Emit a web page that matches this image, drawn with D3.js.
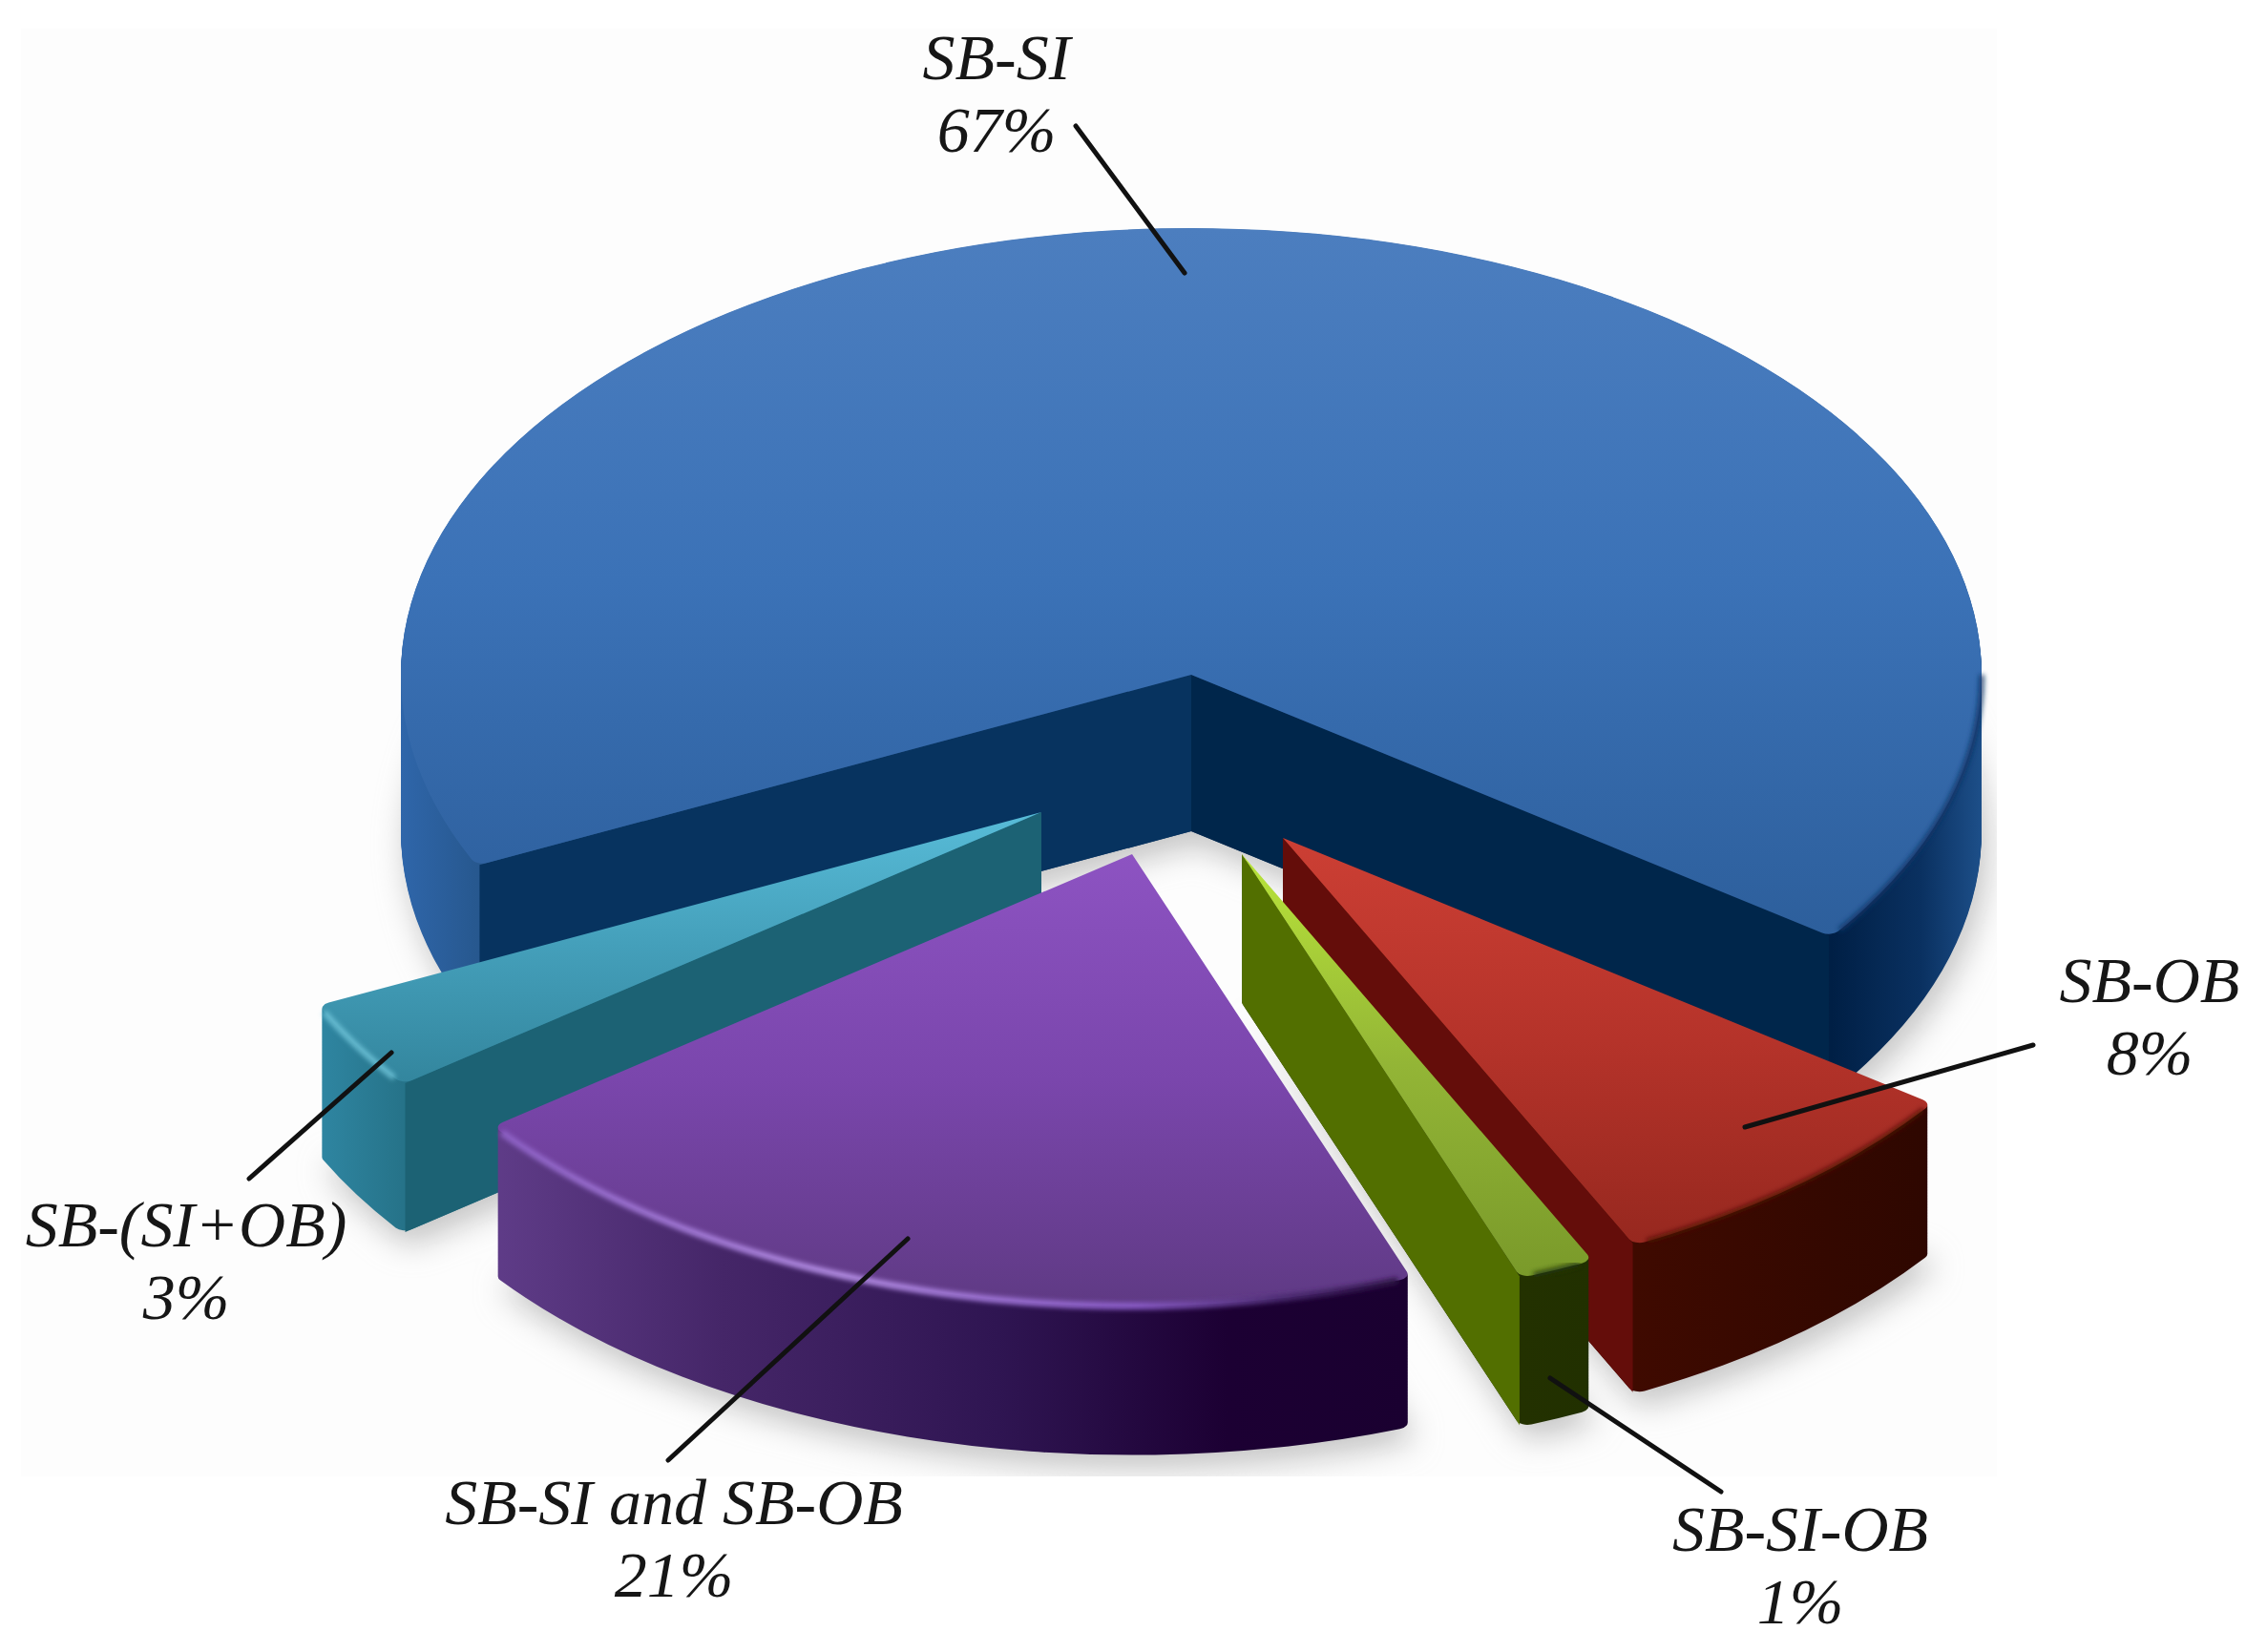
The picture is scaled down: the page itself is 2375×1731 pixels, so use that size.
<!DOCTYPE html>
<html><head><meta charset="utf-8">
<script src="https://cdn.jsdelivr.net/npm/d3@7"></script>
<style>html,body{margin:0;padding:0;background:#fff}svg{display:block}text{font-family:"Liberation Serif",serif;font-style:italic;fill:#161616}</style>
</head><body><div id="c"></div>
<script>
// ---- data ----
const categories = ["SB-SI","SB-OB","SB-SI-OB","SB-SI and SB-OB","SB-(SI+OB)"];
const values = [67,8,1,21,3];

// ---- layout / style (not data) ----
const W=2375,H=1731, cx=1248, cy=707, ry0=468, rx0=828;
const startDeg=-115.3;
const explode=[[0,0],[96,171],[53,188],[-62,188],[-157,144]];
const radiusScale=[1,1.014,1.012,1.012,1.012];
const depths=[164,156,156,156,156];
const nudge=[[0,0],[0,-0.7],[-0.7,1.3],[1.3,-0.9],[-0.9,0]];
const drawOrder=[0,4,3,1,2];
const topStops=[["#4c7ebf","#3b72b7","#2d5f9c"],["#cc3f34","#b5332a","#97281f"],["#b9e43a","#93b536","#7a9a2a"],["#8d53c2","#7a46ac","#5f3a84"],["#58bcd8","#449fba","#33869e"]];
const wallStops=[
 null,
 [["#3f0a00",0],["#2e0700",1]],
 [["#233100",0],["#213000",1]],
 [["#5f3c88",0],["#452668",.25],["#2f1552",.55],["#1c0033",.8],["#1a0030",1]],
 [["#2f86a2",0],["#267389",1]]];
const startFace=["#07335f",null,null,null,"#1c6274"];
const endFace=["#00264b","#640d0a","#526f00",null,null];
const rimColor=[["#0c3266",.8],["#4a0e08",.75],["#23330a",.8],null,["#6fc3d8",.9]];
const labelPos=[[1044,83],[2252,1050],[1886,1625],[706,1597],[195,1306]];
const leaders=[[1127,132,1241,286],[2130,1095,1828,1181],[1803,1563,1624,1444],[700,1530,951,1298],[261,1235,410,1103]];
const fontSize=68, lineGap=76, cornerR=12, faceInset=0.996;

const svg=d3.select("#c").append("svg").attr("width",W).attr("height",H);
const defs=svg.append("defs");
const rad=d=>d*Math.PI/180;
const arcs=d3.pie().sort(null).value(d=>d).startAngle(rad(startDeg)).endAngle(rad(startDeg+360))(values);
const slices=arcs.map((a,i)=>({i,start:a.startAngle+rad(nudge[i][0]),end:a.endAngle+rad(nudge[i][1]),ox:explode[i][0],oy:explode[i][1],k:radiusScale[i],depth:depths[i]}));
const yS=ry0/rx0;
const line=d3.line();
const ptx=(a,k)=>rx0*k*Math.sin(a), pty=(a,k)=>-ry0*k*Math.cos(a);
const arcPts=(a,b,k)=>d3.range(0,61).map(j=>{const t=a+(b-a)*j/60;return [ptx(t,k),pty(t,k)];});
const topArc=d3.arc().innerRadius(0).cornerRadius(cornerR);

defs.append("filter").attr("id","sh").attr("x","-10%").attr("y","-10%").attr("width","120%").attr("height","120%")
  .append("feGaussianBlur").attr("stdDeviation",16);
defs.append("filter").attr("id","rimb").attr("x","-10%").attr("y","-10%").attr("width","120%").attr("height","120%")
  .append("feGaussianBlur").attr("stdDeviation",2.8);
defs.append("clipPath").attr("id","bgclip").append("rect").attr("x",22).attr("y",30).attr("width",2070).attr("height",1517);
function grad(id,stops,horizontal,x1,x2){
  const g=defs.append("linearGradient").attr("id",id);
  if(horizontal) g.attr("gradientUnits","userSpaceOnUse").attr("x1",x1).attr("x2",x2).attr("y1",0).attr("y2",0);
  else g.attr("x1",0).attr("x2",0).attr("y1",0).attr("y2",1);
  stops.forEach(s=>g.append("stop").attr("offset",s[1]).attr("stop-color",s[0]));
}
topStops.forEach((s,i)=>grad("top"+i,[[s[0],0],[s[1],.5],[s[2],1]],false));
const purpleRim=[["#8c60c4",0],["#b28ce2",.38],["#8a5cc8",.7],["#4a2a70",.86],["#2a1040",1]];

svg.append("rect").attr("x",22).attr("y",30).attr("width",2070).attr("height",1517).attr("fill","#fdfdfd");

const sliceArc=s=>topArc.outerRadius(rx0*s.k)({startAngle:s.start,endAngle:s.end});

// shadows: the blurred foot of each slice
const sg=svg.append("g").attr("clip-path","url(#bgclip)").attr("filter","url(#sh)");
slices.forEach(s=>{
  sg.append("path").attr("transform",`translate(${cx+s.ox+6},${cy+s.oy+s.depth+14}) scale(1,${yS})`)
    .attr("d",sliceArc(s)).attr("fill","#c4c4c4");
});

// slices, back to front
const face=(g,a,k,d,fill)=>{
  const x=ptx(a,k*faceInset),y=pty(a,k*faceInset);
  g.append("path").attr("d",line([[0,0],[x,y],[x,y+d],[0,d]])+"Z").attr("fill",fill);
};
drawOrder.forEach(i=>{
  const s=slices[i];
  const g=svg.append("g").attr("class","slice").attr("data-cat",categories[i]).attr("transform",`translate(${cx+s.ox},${cy+s.oy})`);
  // outer wall: stacked copies of the rounded slice outline
  const xs=[ptx(s.start,s.k),ptx(s.end,s.k)];
  if(i===0){
    const off=x=>(x+rx0)/(2*rx0);
    grad("wall0",[["#2f66aa",0],["#27588f",off(xs[0])],["#001f45",off(xs[1])],["#0a3161",off(xs[1]+(rx0-xs[1])*.6)],["#1d4f89",1]],true,-rx0,rx0);
  } else grad("wall"+i,wallStops[i],true,d3.min(xs),d3.max(xs));
  const d=sliceArc(s);
  const wg=g.append("g").attr("fill",`url(#wall${i})`);
  d3.range(s.depth,0,-1.5).forEach(dz=>{
    wg.append("path").attr("transform",`translate(0,${dz}) scale(1,${yS})`).attr("d",d);
  });
  if(startFace[i] && Math.sin(s.start)<0) face(g,s.start,s.k,s.depth,startFace[i]);
  if(endFace[i] && Math.sin(s.end)>0) face(g,s.end,s.k,s.depth,endFace[i]);
  // top face
  g.append("path").attr("transform",`scale(1,${yS})`).attr("d",d).attr("fill",`url(#top${i})`);
  // bevel
  let ra=s.start+rad(1), rb=s.end-rad(1);
  if(i===0){ ra=rad(90); }
  const rim=g.append("path").attr("d",line(arcPts(ra,rb,s.k))).attr("fill","none").attr("filter","url(#rimb)").attr("stroke-width",i===3?7:6);
  if(i===3){
    grad("rimP",purpleRim,true,d3.min(xs),d3.max(xs));
    rim.attr("stroke","url(#rimP)");
  } else rim.attr("stroke",rimColor[i][0]).attr("stroke-opacity",rimColor[i][1]);
});

// leader lines
svg.append("g").selectAll("line").data(leaders).join("line")
  .attr("x1",d=>d[0]).attr("y1",d=>d[1]).attr("x2",d=>d[2]).attr("y2",d=>d[3])
  .attr("stroke","#111").attr("stroke-width",5).attr("stroke-linecap","round");

// labels
const lab=svg.append("g").selectAll("text").data(categories).join("text")
  .attr("text-anchor","middle").attr("font-size",fontSize);
lab.append("tspan").attr("x",(d,i)=>labelPos[i][0]).attr("y",(d,i)=>labelPos[i][1]).text(d=>d);
lab.append("tspan").attr("x",(d,i)=>labelPos[i][0]).attr("y",(d,i)=>labelPos[i][1]+lineGap).text((d,i)=>values[i]+"%");
</script></body></html>
